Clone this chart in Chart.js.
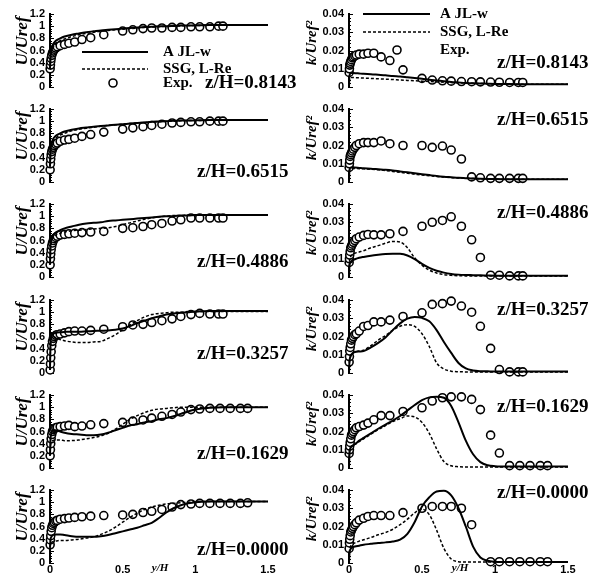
<!DOCTYPE html>
<html><head><meta charset="utf-8">
<script src="https://cdn.jsdelivr.net/npm/chart.js@4.4.1/dist/chart.umd.min.js"></script>
<style>
html,body{margin:0;padding:0;background:#fff;}
#wrap{position:relative;width:600px;height:576px;overflow:hidden;background:#fff;}
canvas{position:absolute;}
</style></head><body><div id="wrap"></div>
<script>
// ---------- labels / ticks ----------
const zLabels = ["z/H=0.8143","z/H=0.6515","z/H=0.4886","z/H=0.3257","z/H=0.1629","z/H=0.0000"];
const seriesNames = ["A JL-w","SSG, L-Re","Exp."];
const uTicks = [0,0.2,0.4,0.6,0.8,1,1.2];
const kTicks = [0,0.01,0.02,0.03,0.04];
const xTicks = [0,0.5,1,1.5];

// ---------- model curves (y/H grid) ----------
const xModel = [0,0.003,0.01,0.02,0.04,0.07,0.1,0.15,0.2,0.25,0.3,0.35,0.4,0.45,0.5,0.55,0.6,0.65,0.7,0.75,0.8,0.85,0.9,0.95,1.0,1.1,1.2,1.3,1.4,1.5];

const uAJL1 = [0.3,0.5,0.62,0.7,0.76,0.8,0.83,0.86,0.88,0.9,0.915,0.93,0.94,0.95,0.96,0.97,0.98,0.985,0.99,1.0,1.0,1.005,1.01,1.01,1.015,1.02,1.02,1.02,1.02,1.02];
const uSSG1 = [0.3,0.45,0.56,0.64,0.71,0.76,0.79,0.83,0.86,0.88,0.9,0.915,0.93,0.94,0.95,0.96,0.97,0.98,0.985,0.99,1.0,1.0,1.005,1.01,1.01,1.015,1.02,1.02,1.02,1.02];
const kAJL1 = [0,0.006,0.0075,0.0077,0.0076,0.0074,0.0072,0.007,0.0067,0.0064,0.006,0.0057,0.0053,0.0049,0.0045,0.004,0.0036,0.0032,0.0028,0.0025,0.0022,0.002,0.0019,0.0018,0.0017,0.0016,0.0015,0.0015,0.0015,0.0015];
const kSSG1 = [0,0.004,0.005,0.0052,0.0051,0.005,0.0049,0.0047,0.0045,0.0043,0.0041,0.0038,0.0036,0.0034,0.0032,0.003,0.0028,0.0026,0.0024,0.0022,0.0021,0.002,0.0019,0.0018,0.0017,0.0016,0.0015,0.0015,0.0015,0.0015];

const uAJL2 = [0.25,0.5,0.62,0.7,0.76,0.8,0.83,0.86,0.88,0.895,0.91,0.92,0.93,0.94,0.95,0.96,0.97,0.98,0.99,0.995,1.0,1.005,1.01,1.01,1.015,1.02,1.02,1.02,1.02,1.02];
const uSSG2 = [0.25,0.45,0.57,0.65,0.72,0.77,0.8,0.84,0.865,0.885,0.9,0.915,0.93,0.94,0.95,0.96,0.97,0.98,0.985,0.99,1.0,1.0,1.005,1.01,1.01,1.015,1.02,1.02,1.02,1.02];
const kAJL2 = [0,0.0065,0.0078,0.008,0.0079,0.0077,0.0075,0.0073,0.007,0.0067,0.0063,0.0058,0.0053,0.0048,0.0043,0.0038,0.0033,0.0029,0.0026,0.0023,0.0021,0.0019,0.0018,0.0017,0.0016,0.0015,0.0015,0.0015,0.0015,0.0015];
const kSSG2 = [0,0.006,0.0072,0.0074,0.0074,0.0073,0.0072,0.007,0.0067,0.0063,0.0058,0.0053,0.0048,0.0043,0.0038,0.0034,0.003,0.0027,0.0024,0.0022,0.002,0.0019,0.0018,0.0017,0.0016,0.0015,0.0015,0.0015,0.0015,0.0015];

const uAJL3 = [0.2,0.5,0.62,0.68,0.73,0.77,0.8,0.83,0.86,0.88,0.89,0.9,0.92,0.93,0.94,0.95,0.96,0.97,0.98,0.99,1.0,1.0,1.01,1.01,1.02,1.02,1.02,1.02,1.02,1.02];
const uSSG3 = [0.2,0.45,0.58,0.64,0.69,0.72,0.74,0.76,0.77,0.78,0.79,0.8,0.81,0.83,0.86,0.89,0.92,0.95,0.97,0.99,1.0,1.01,1.01,1.02,1.02,1.02,1.02,1.02,1.02,1.02];
const kAJL3 = [0,0.006,0.008,0.009,0.0097,0.0105,0.011,0.0117,0.0122,0.0126,0.0128,0.0127,0.0118,0.0098,0.0072,0.005,0.0034,0.0024,0.0017,0.0013,0.0011,0.001,0.0009,0.0008,0.0007,0.0007,0.0007,0.0007,0.0007,0.0007];
const kSSG3 = [0,0.008,0.011,0.012,0.013,0.0137,0.0144,0.016,0.0172,0.0185,0.0195,0.0192,0.016,0.0105,0.0065,0.0038,0.0022,0.0013,0.0009,0.0007,0.0006,0.0005,0.0005,0.0005,0.0005,0.0005,0.0005,0.0005,0.0005,0.0005];

const uAJL4 = [0.05,0.45,0.6,0.64,0.66,0.67,0.675,0.68,0.68,0.685,0.69,0.695,0.7,0.71,0.73,0.77,0.82,0.86,0.9,0.93,0.96,0.98,0.99,1.0,1.01,1.02,1.02,1.02,1.02,1.02];
const uSSG4 = [0.05,0.4,0.58,0.6,0.58,0.55,0.53,0.51,0.5,0.5,0.51,0.52,0.57,0.63,0.71,0.79,0.86,0.92,0.96,0.98,0.99,1.0,1.0,1.01,1.01,1.01,1.01,1.01,1.01,1.01];
const kAJL4 = [0,0.006,0.009,0.0105,0.0115,0.0118,0.012,0.014,0.0165,0.0195,0.0235,0.0272,0.0298,0.0307,0.0302,0.0283,0.0235,0.017,0.011,0.0055,0.0025,0.0014,0.001,0.0009,0.0008,0.0008,0.0008,0.0008,0.0008,0.0008];
const kSSG4 = [0,0.006,0.009,0.0105,0.0115,0.012,0.0125,0.015,0.018,0.0205,0.0235,0.0256,0.0265,0.0255,0.0215,0.0145,0.0055,0.0022,0.001,0.0007,0.0006,0.0005,0.0005,0.0005,0.0005,0.0005,0.0005,0.0005,0.0005,0.0005];

const uAJL5 = [0.2,0.45,0.58,0.62,0.62,0.6,0.58,0.56,0.55,0.54,0.54,0.55,0.58,0.62,0.66,0.7,0.72,0.75,0.77,0.8,0.82,0.85,0.89,0.93,0.96,0.99,1.0,1.0,1.0,1.0];
const uSSG5 = [0.2,0.35,0.42,0.45,0.46,0.46,0.45,0.45,0.46,0.48,0.5,0.53,0.57,0.64,0.72,0.8,0.86,0.91,0.95,0.97,0.98,0.99,1.0,1.0,1.0,1.0,1.0,1.0,1.0,1.0];
const kAJL5 = [0,0.008,0.011,0.012,0.013,0.015,0.0165,0.019,0.0215,0.0238,0.026,0.0285,0.0315,0.0345,0.0372,0.0387,0.039,0.0385,0.034,0.025,0.015,0.0075,0.0032,0.0015,0.001,0.0008,0.0008,0.0008,0.0008,0.0008];
const kSSG5 = [0,0.008,0.011,0.012,0.013,0.0145,0.016,0.0185,0.021,0.0232,0.0255,0.027,0.0285,0.028,0.025,0.019,0.0105,0.0035,0.0012,0.0007,0.0005,0.0005,0.0005,0.0005,0.0005,0.0005,0.0005,0.0005,0.0005,0.0005];

const uAJL6 = [0.25,0.38,0.43,0.46,0.47,0.47,0.46,0.44,0.43,0.43,0.43,0.44,0.46,0.49,0.52,0.55,0.58,0.62,0.66,0.74,0.83,0.9,0.95,0.98,1.0,1.01,1.01,1.01,1.01,1.01];
const uSSG6 = [0.25,0.3,0.33,0.35,0.36,0.37,0.37,0.38,0.39,0.41,0.43,0.47,0.52,0.59,0.67,0.75,0.82,0.88,0.92,0.95,0.97,0.98,0.99,1.0,1.01,1.01,1.01,1.01,1.01,1.01];
const kAJL6 = [0,0.005,0.0075,0.0085,0.009,0.0095,0.01,0.0105,0.011,0.0113,0.0118,0.0128,0.016,0.0225,0.031,0.036,0.0392,0.0396,0.037,0.03,0.02,0.009,0.003,0.0012,0.0007,0.0005,0.0005,0.0005,0.0005,0.0005];
const kSSG6 = [0,0.006,0.009,0.01,0.011,0.012,0.0127,0.014,0.0155,0.0167,0.0185,0.021,0.024,0.0275,0.0295,0.0265,0.018,0.008,0.0022,0.0007,0.0005,0.0005,0.0005,0.0005,0.0005,0.0005,0.0005,0.0005,0.0005,0.0005];

// ---------- experimental data ----------
const xExpA = [0.001,0.003,0.005,0.008,0.012,0.017,0.023,0.03,0.04,0.05,0.07,0.1,0.13,0.17,0.22,0.28,0.37,0.5,0.57,0.64,0.7,0.77,0.84,0.9,0.97,1.03,1.1,1.16,1.19];
const xExpB = [0.001,0.003,0.005,0.008,0.012,0.017,0.023,0.03,0.04,0.05,0.07,0.1,0.13,0.17,0.22,0.28,0.37,0.5,0.57,0.64,0.7,0.77,0.84,0.9,0.97,1.03,1.1,1.17,1.24,1.31,1.36];

const uExp1 = [0.3,0.36,0.42,0.47,0.52,0.56,0.59,0.62,0.64,0.66,0.68,0.7,0.72,0.74,0.78,0.81,0.86,0.92,0.94,0.96,0.97,0.97,0.98,0.98,0.99,0.99,0.99,1.0,1.0];
const kExp1 = [0.008,0.01,0.012,0.013,0.014,0.015,0.016,0.0165,0.017,0.0175,0.018,0.018,0.0185,0.0185,0.0165,0.0145,0.0094,0.0047,0.0038,0.0034,0.0032,0.003,0.0029,0.0028,0.0027,0.0026,0.0025,0.0025,0.0025];
const uExp2 = [0.2,0.3,0.38,0.45,0.5,0.54,0.57,0.6,0.62,0.64,0.67,0.69,0.7,0.72,0.75,0.78,0.82,0.87,0.89,0.91,0.93,0.95,0.97,0.98,0.99,0.99,1.0,1.0,1.0];
const kExp2 = [0.008,0.01,0.012,0.014,0.015,0.016,0.017,0.018,0.019,0.02,0.021,0.0216,0.0216,0.0216,0.0225,0.021,0.02,0.02,0.019,0.0197,0.0175,0.0126,0.0028,0.0023,0.002,0.002,0.002,0.002,0.002];
const uExp3 = [0.2,0.3,0.38,0.45,0.51,0.56,0.6,0.63,0.65,0.67,0.69,0.7,0.71,0.72,0.73,0.74,0.75,0.8,0.81,0.83,0.86,0.88,0.92,0.94,0.97,0.97,0.97,0.97,0.97];
const kExp3 = [0.008,0.01,0.012,0.014,0.016,0.017,0.018,0.019,0.02,0.021,0.0219,0.0228,0.0233,0.0231,0.0231,0.0237,0.025,0.0278,0.03,0.031,0.033,0.0278,0.0204,0.0107,0.001,0.001,0.0006,0.0006,0.0006];
const uExp4 = [0.05,0.15,0.25,0.35,0.45,0.52,0.57,0.6,0.62,0.63,0.64,0.66,0.68,0.69,0.69,0.7,0.72,0.76,0.79,0.8,0.83,0.86,0.89,0.93,0.96,0.98,0.97,0.97,0.97];
const kExp4 = [0.006,0.009,0.012,0.014,0.016,0.018,0.019,0.02,0.021,0.0215,0.023,0.0255,0.026,0.028,0.028,0.029,0.031,0.033,0.0376,0.038,0.0394,0.0367,0.0333,0.0256,0.0135,0.0019,0.0006,0.0006,0.0006];
const uExp5 = [0.2,0.3,0.4,0.48,0.55,0.6,0.63,0.65,0.66,0.67,0.68,0.69,0.7,0.68,0.69,0.71,0.73,0.75,0.77,0.79,0.82,0.85,0.88,0.92,0.96,0.97,0.98,0.98,0.98,0.98,0.98];
const kExp5 = [0.008,0.01,0.012,0.014,0.016,0.018,0.019,0.02,0.021,0.022,0.0227,0.0235,0.0246,0.0264,0.0287,0.0287,0.031,0.033,0.0367,0.0385,0.039,0.039,0.0376,0.032,0.018,0.0082,0.0013,0.0013,0.0013,0.0013,0.0013];
const uExp6 = [0.3,0.38,0.45,0.52,0.58,0.62,0.65,0.67,0.69,0.7,0.72,0.73,0.74,0.75,0.76,0.77,0.78,0.79,0.8,0.83,0.85,0.88,0.92,0.96,0.97,0.98,0.98,0.98,0.98,0.98,0.99];
const kExp6 = [0.008,0.011,0.013,0.015,0.017,0.018,0.019,0.02,0.021,0.022,0.0235,0.0245,0.0255,0.026,0.026,0.026,0.0276,0.03,0.031,0.031,0.031,0.03,0.021,null,0.0007,0.0007,0.0007,0.0007,0.0007,0.0007,0.0007];

const uAJL = [uAJL1,uAJL2,uAJL3,uAJL4,uAJL5,uAJL6];
const uSSG = [uSSG1,uSSG2,uSSG3,uSSG4,uSSG5,uSSG6];
const kAJL = [kAJL1,kAJL2,kAJL3,kAJL4,kAJL5,kAJL6];
const kSSG = [kSSG1,kSSG2,kSSG3,kSSG4,kSSG5,kSSG6];
const uExp = [uExp1,uExp2,uExp3,uExp4,uExp5,uExp6];
const kExp = [kExp1,kExp2,kExp3,kExp4,kExp5,kExp6];
const xExp = [xExpA,xExpA,xExpA,xExpA,xExpB,xExpB];

// ---------- layout ----------
const SERIF = '"Liberation Serif","Times New Roman",serif';
const SANS = '"Liberation Sans",Arial,sans-serif';
const leftZ = [[205,83],[197,77],[197,72],[197,68],[197,73],[197,74]];
const rightZ = [[197,63],[197,25],[197,23],[197,24],[197,26],[197,17]];

const decor = {
  id:'decor',
  beforeDatasetsDraw(chart, args, o){
    const ctx = chart.ctx, ys = chart.scales.y, a = chart.chartArea;
    ctx.save(); ctx.strokeStyle='#000'; ctx.lineWidth=1;
    const n = Math.round(ys.max/o.minor);
    for(let i=0;i<=n;i++){
      const py = Math.round(ys.getPixelForValue(i*o.minor))+0.5;
      const len = (i%5===0)?4:2;
      ctx.beginPath(); ctx.moveTo(a.left, py); ctx.lineTo(a.left+len, py); ctx.stroke();
    }
    ctx.restore();
  },
  afterDraw(chart, args, o){
    const ctx = chart.ctx, xs = chart.scales.x, a = chart.chartArea;
    ctx.save(); ctx.fillStyle='#000'; ctx.strokeStyle='#000';
    if(o.xLabels){
      ctx.font = 'bold 11px '+SANS; ctx.textAlign='center'; ctx.textBaseline='top';
      xTicks.forEach(v=>ctx.fillText(String(v), xs.getPixelForValue(v), a.bottom+1));
    }
    (o.samples||[]).forEach(s=>{
      if(s.kind==='circle'){
        ctx.beginPath(); ctx.lineWidth=1.6; ctx.fillStyle='#fff';
        ctx.arc(s.x,s.y,4,0,Math.PI*2); ctx.fill(); ctx.stroke(); ctx.fillStyle='#000';
      } else {
        ctx.beginPath(); ctx.lineWidth = s.kind==='dash'?1.5:2;
        ctx.setLineDash(s.kind==='dash'?[3,2]:[]);
        ctx.moveTo(s.x,s.y); ctx.lineTo(s.x2,s.y); ctx.stroke(); ctx.setLineDash([]);
      }
    });
    (o.texts||[]).forEach(t=>{
      ctx.save();
      ctx.font = t.font; ctx.textAlign = t.align||'left'; ctx.textBaseline='middle';
      ctx.translate(t.x,t.y); if(t.rot) ctx.rotate(t.rot);
      ctx.fillText(t.s,0,0);
      ctx.restore();
    });
    ctx.restore();
  }
};

function pts(xs, ys){ return xs.map((x,i)=>({x:x, y:ys[i]})); }

function makePanel(r, c){
  const wrap = document.getElementById('wrap');
  const cv = document.createElement('canvas');
  const H = 100;
  cv.width = 300; cv.height = H;
  cv.style.left = (c*300)+'px'; cv.style.top = Math.round(95.2*r)+'px';
  cv.style.width='300px'; cv.style.height=H+'px';
  wrap.appendChild(cv);
  const isU = c===0;
  const ticksArr = isU ? uTicks : kTicks;
  const texts = [];
  const samples = [];
  texts.push(isU
    ? {s:'U/Uref', x:23, y:41, rot:-Math.PI/2, align:'center', font:'italic bold 17px '+SERIF}
    : {s:'k/Uref\u00B2', x:12, y:43, rot:-Math.PI/2, align:'center', font:'italic bold 15px '+SERIF});
  const zp = isU ? leftZ[r] : rightZ[r];
  texts.push({s:zLabels[r], x:zp[0], y:zp[1], font:'bold 19px '+SERIF});
  if(r===0){
    const lx = isU?82:63, lx2 = isU?148:130, tx = isU?163:140;
    const ly = isU?[52,69,83]:[14,32,50];
    const cx = isU?113:97;
    samples.push({kind:'solid', x:lx, x2:lx2, y:ly[0]});
    samples.push({kind:'dash', x:lx, x2:lx2, y:ly[1]});
    samples.push({kind:'circle', x:cx, y:ly[2]});
    seriesNames.forEach((s,i)=>texts.push({s:s, x:tx, y:ly[i], font:'bold 15px '+SERIF}));
  }
  if(r===5){
    texts.push({s:'y/H', x:160, y:92, align:'center', font:'italic bold 11px '+SERIF});
  }
  const modelA = isU ? uAJL[r] : kAJL[r];
  const modelS = isU ? uSSG[r] : kSSG[r];
  const expY = isU ? uExp[r] : kExp[r];
  new Chart(cv, {
    type:'line',
    data:{ datasets:[
      {label:seriesNames[0], data:pts(xModel, modelA), borderColor:'#000', borderWidth:2, pointRadius:0, cubicInterpolationMode:'monotone', fill:false, order:1, clip:false},
      {label:seriesNames[1], data:pts(xModel, modelS), borderColor:'#000', borderWidth:1.5, borderDash:[3,2], pointRadius:0, cubicInterpolationMode:'monotone', fill:false, order:1, clip:false},
      {label:seriesNames[2], data:pts(xExp[r], expY), showLine:false, pointRadius:4, pointBorderWidth:1.6, pointBackgroundColor:'#fff', pointBorderColor:'#000', borderColor:'#000', order:2, clip:false}
    ]},
    options:{
      responsive:false, animation:false, devicePixelRatio:1,
      layout:{ autoPadding:false, padding:{ left:0, right:32, top:14, bottom: H-87 } },
      plugins:{ legend:{display:false}, tooltip:{enabled:false},
        decor:{ texts:texts, samples:samples, minor: isU ? 0.04 : 0.002, xLabels: r===5 } },
      scales:{
        x:{ type:'linear', min:0, max:1.5, display:false },
        y:{ type:'linear', min:0, max: isU ? 1.2 : 0.04,
          afterBuildTicks: s => { s.ticks = ticksArr.map(v=>({value:v})); },
          afterFit: s => { s.width = isU ? 50 : 49; s.paddingTop = 0; s.paddingBottom = 0; },
          grid:{ drawOnChartArea:false, drawTicks:false },
          border:{ display:true, color:'#000', width:2 },
          ticks:{ padding:5, color:'#000', font:{family:SANS, weight:'bold', size:11}, callback: v => String(v), autoSkip:false }
        }
      }
    },
    plugins:[decor]
  });
}
for(let r=0;r<6;r++){ for(let c=0;c<2;c++){ makePanel(r,c); } }
</script>
</body></html>
